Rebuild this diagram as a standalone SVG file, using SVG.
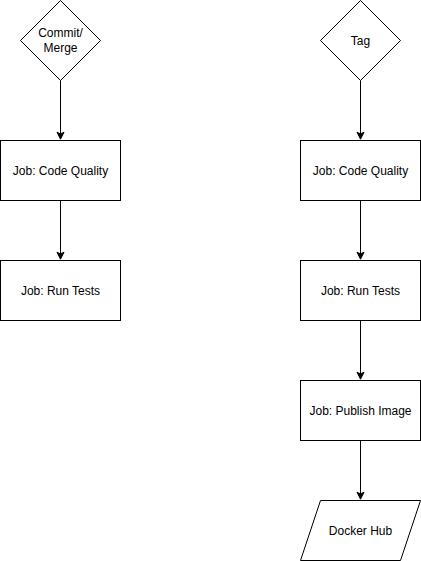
<svg xmlns="http://www.w3.org/2000/svg" width="421" height="561" viewBox="0 0 421 561">
<style>
.shape{fill:#ffffff;stroke:#000000;stroke-width:1}
.edge{fill:none;stroke:#000000;stroke-width:1}
.head{fill:#000000;stroke:#000000;stroke-width:1}
text{font-family:"Liberation Sans",Arial,Helvetica,sans-serif;font-size:12px;fill:#000000;text-anchor:middle;dominant-baseline:central}
</style>
<rect width="421" height="561" fill="#ffffff"/>
<g id="connectors">
<path class="edge" d="M60.5 80.5 V133.9"/><path class="head" d="M60.5 139.2 L57 132.2 L60.5 133.9 L64 132.2 Z"/>
<path class="edge" d="M60.5 200.5 V253.9"/><path class="head" d="M60.5 259.2 L57 252.2 L60.5 253.9 L64 252.2 Z"/>
<path class="edge" d="M360.5 80.5 V133.9"/><path class="head" d="M360.5 139.2 L357 132.2 L360.5 133.9 L364 132.2 Z"/>
<path class="edge" d="M360.5 200.5 V253.9"/><path class="head" d="M360.5 259.2 L357 252.2 L360.5 253.9 L364 252.2 Z"/>
<path class="edge" d="M360.5 320.5 V373.9"/><path class="head" d="M360.5 379.2 L357 372.2 L360.5 373.9 L364 372.2 Z"/>
<path class="edge" d="M360.5 440.5 V493.9"/><path class="head" d="M360.5 499.2 L357 492.2 L360.5 493.9 L364 492.2 Z"/>
</g>
<g id="commit-merge">
<path class="shape" d="M60.5 0.5 L100.5 40.5 L60.5 80.5 L20.5 40.5 Z"/>
<text x="60.5" y="33">Commit/</text>
<text x="60.5" y="48">Merge</text>
</g>
<g id="left-code-quality">
<rect class="shape" x="0.5" y="140.5" width="120" height="60"/>
<text x="60.5" y="170.5">Job: Code Quality</text>
</g>
<g id="left-run-tests">
<rect class="shape" x="0.5" y="260.5" width="120" height="60"/>
<text x="60.5" y="290.5">Job: Run Tests</text>
</g>
<g id="tag">
<path class="shape" d="M360.5 0.5 L400.5 40.5 L360.5 80.5 L320.5 40.5 Z"/>
<text x="360.5" y="40.5">Tag</text>
</g>
<g id="right-code-quality">
<rect class="shape" x="300.5" y="140.5" width="120" height="60"/>
<text x="360.5" y="170.5">Job: Code Quality</text>
</g>
<g id="right-run-tests">
<rect class="shape" x="300.5" y="260.5" width="120" height="60"/>
<text x="360.5" y="290.5">Job: Run Tests</text>
</g>
<g id="publish-image">
<rect class="shape" x="300.5" y="380.5" width="120" height="60"/>
<text x="360.5" y="410.5">Job: Publish Image</text>
</g>
<g id="docker-hub">
<path class="shape" d="M320.5 500.5 L420.5 500.5 L400.5 560.5 L300.5 560.5 Z"/>
<text x="360.5" y="530.5">Docker Hub</text>
</g>
</svg>
